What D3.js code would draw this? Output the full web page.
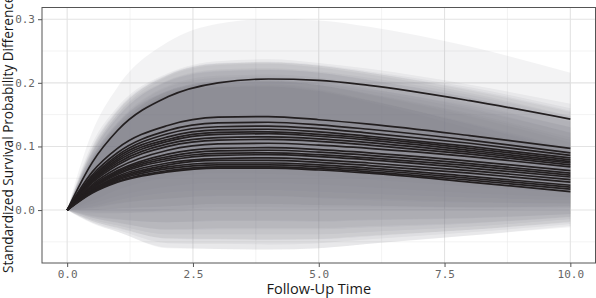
<!DOCTYPE html>
<html>
<head>
<meta charset="utf-8">
<script src="https://cdn.jsdelivr.net/npm/d3@7"></script>
<style>
  body { margin: 0; background: #fff; }
  svg { display: block; }
</style>
</head>
<body>
<svg id="chart" width="596" height="298"></svg>
<script>
// follow-up times where each curve was read
const times = [0, 0.5, 1, 2, 3, 4, 5, 6, 8, 10];

// standardized survival probability difference, one row per curve
const estimates = [
  [0, 0.075, 0.125, 0.178, 0.200, 0.206, 0.204, 0.196, 0.172, 0.143],
  [0, 0.060, 0.097, 0.133, 0.146, 0.147, 0.142, 0.135, 0.117, 0.097],
  [0, 0.055, 0.090, 0.125, 0.137, 0.138, 0.134, 0.127, 0.110, 0.090],
  [0, 0.052, 0.086, 0.120, 0.131, 0.132, 0.128, 0.121, 0.105, 0.086],
  [0, 0.050, 0.083, 0.115, 0.126, 0.127, 0.123, 0.116, 0.100, 0.082],
  [0, 0.048, 0.080, 0.111, 0.122, 0.123, 0.119, 0.113, 0.097, 0.079],
  [0, 0.046, 0.077, 0.108, 0.119, 0.120, 0.116, 0.110, 0.094, 0.076],
  [0, 0.045, 0.074, 0.104, 0.114, 0.115, 0.112, 0.106, 0.091, 0.074],
  [0, 0.043, 0.071, 0.100, 0.110, 0.111, 0.108, 0.102, 0.088, 0.071],
  [0, 0.040, 0.066, 0.094, 0.104, 0.105, 0.102, 0.097, 0.084, 0.068],
  [0, 0.038, 0.062, 0.088, 0.097, 0.098, 0.095, 0.090, 0.077, 0.062],
  [0, 0.036, 0.060, 0.084, 0.093, 0.094, 0.091, 0.086, 0.073, 0.058],
  [0, 0.035, 0.058, 0.081, 0.089, 0.090, 0.087, 0.082, 0.070, 0.055],
  [0, 0.034, 0.056, 0.078, 0.086, 0.087, 0.084, 0.079, 0.066, 0.052],
  [0, 0.032, 0.053, 0.074, 0.081, 0.082, 0.079, 0.074, 0.062, 0.048],
  [0, 0.031, 0.051, 0.071, 0.078, 0.078, 0.075, 0.070, 0.058, 0.044],
  [0, 0.030, 0.049, 0.068, 0.074, 0.074, 0.071, 0.066, 0.053, 0.039],
  [0, 0.029, 0.047, 0.065, 0.071, 0.071, 0.068, 0.063, 0.050, 0.036],
  [0, 0.028, 0.045, 0.062, 0.068, 0.068, 0.065, 0.060, 0.047, 0.033],
  [0, 0.027, 0.044, 0.060, 0.066, 0.066, 0.063, 0.058, 0.044, 0.029]
];

// half width of each curve's confidence band
const halfWidths = [
  [0, 0.048, 0.068, 0.086, 0.093, 0.094, 0.094, 0.092, 0.085, 0.073],
  [0, 0.045, 0.065, 0.082, 0.088, 0.090, 0.089, 0.087, 0.080, 0.070],
  [0, 0.045, 0.068, 0.088, 0.094, 0.095, 0.094, 0.091, 0.083, 0.070],
  [0, 0.046, 0.070, 0.092, 0.099, 0.100, 0.099, 0.095, 0.085, 0.070],
  [0, 0.046, 0.072, 0.097, 0.104, 0.105, 0.104, 0.100, 0.088, 0.072],
  [0, 0.045, 0.070, 0.093, 0.099, 0.100, 0.099, 0.095, 0.084, 0.068],
  [0, 0.046, 0.074, 0.102, 0.109, 0.110, 0.108, 0.103, 0.090, 0.072],
  [0, 0.045, 0.072, 0.098, 0.104, 0.105, 0.104, 0.099, 0.086, 0.068],
  [0, 0.046, 0.075, 0.103, 0.109, 0.110, 0.108, 0.102, 0.088, 0.068],
  [0, 0.045, 0.071, 0.094, 0.099, 0.100, 0.098, 0.093, 0.080, 0.062],
  [0, 0.047, 0.076, 0.107, 0.114, 0.115, 0.113, 0.106, 0.090, 0.068],
  [0, 0.046, 0.075, 0.103, 0.109, 0.110, 0.108, 0.101, 0.085, 0.064],
  [0, 0.047, 0.077, 0.112, 0.119, 0.120, 0.117, 0.109, 0.091, 0.066],
  [0, 0.046, 0.076, 0.108, 0.114, 0.115, 0.112, 0.104, 0.086, 0.062],
  [0, 0.047, 0.077, 0.112, 0.119, 0.120, 0.117, 0.108, 0.088, 0.062],
  [0, 0.048, 0.078, 0.116, 0.124, 0.125, 0.121, 0.111, 0.089, 0.062],
  [0, 0.047, 0.077, 0.112, 0.119, 0.120, 0.116, 0.106, 0.084, 0.058],
  [0, 0.048, 0.078, 0.117, 0.124, 0.125, 0.120, 0.109, 0.085, 0.058],
  [0, 0.048, 0.079, 0.121, 0.129, 0.130, 0.125, 0.113, 0.087, 0.058],
  [0, 0.048, 0.078, 0.120, 0.127, 0.128, 0.123, 0.111, 0.084, 0.056]
];

const xTicks = [0, 2.5, 5, 7.5, 10];
const xMinor = [1.25, 3.75, 6.25, 8.75];
const yTicks = [0, 0.1, 0.2, 0.3];
const yMinor = [-0.05, 0.05, 0.15, 0.25];

const svg = d3.select("#chart");
const panelLeft = 42, panelRight = 595.5, panelTop = 7.5, panelBottom = 263;

const xScale = d3.scaleLinear().domain([-0.5, 10.5]).range([panelLeft, panelRight]);
const yScale = d3.scaleLinear().domain([-0.0832, 0.3184]).range([panelBottom, panelTop]);

// grid
const grid = svg.append("g");
grid.selectAll(".xminor").data(xMinor).join("line")
  .attr("x1", d => xScale(d)).attr("x2", d => xScale(d))
  .attr("y1", panelTop).attr("y2", panelBottom)
  .attr("stroke", "#ebebeb").attr("stroke-width", 0.6);
grid.selectAll(".yminor").data(yMinor).join("line")
  .attr("x1", panelLeft).attr("x2", panelRight)
  .attr("y1", d => yScale(d)).attr("y2", d => yScale(d))
  .attr("stroke", "#ebebeb").attr("stroke-width", 0.6);
grid.selectAll(".xmajor").data(xTicks).join("line")
  .attr("x1", d => xScale(d)).attr("x2", d => xScale(d))
  .attr("y1", panelTop).attr("y2", panelBottom)
  .attr("stroke", "#e3e3e3").attr("stroke-width", 1.1);
grid.selectAll(".ymajor").data(yTicks).join("line")
  .attr("x1", panelLeft).attr("x2", panelRight)
  .attr("y1", d => yScale(d)).attr("y2", d => yScale(d))
  .attr("stroke", "#e3e3e3").attr("stroke-width", 1.1);

const bandArea = d3.area()
  .x((d, i) => xScale(times[i]))
  .y0(d => yScale(d[0]))
  .y1(d => yScale(d[1]))
  .curve(d3.curveMonotoneX);

const bands = estimates.map((row, k) =>
  row.map((v, i) => [v - halfWidths[k][i], v + halfWidths[k][i]]));

svg.append("g").selectAll("path").data(bands).join("path")
  .attr("d", bandArea)
  .attr("fill", "#808086")
  .attr("fill-opacity", 0.095);

const myLine = d3.line()
  .x((d, i) => xScale(times[i]))
  .y(d => yScale(d))
  .curve(d3.curveMonotoneX);

svg.append("g").selectAll("path").data(estimates).join("path")
  .attr("d", myLine)
  .attr("fill", "none")
  .attr("stroke", "#231f20")
  .attr("stroke-width", 1.7);

// panel border
svg.append("rect")
  .attr("x", panelLeft).attr("y", panelTop)
  .attr("width", panelRight - panelLeft).attr("height", panelBottom - panelTop)
  .attr("fill", "none").attr("stroke", "#555").attr("stroke-width", 1);

const xAxis = d3.axisBottom(xScale).tickValues(xTicks)
  .tickFormat(d3.format(".1f")).tickSize(4).tickPadding(3);
const yAxis = d3.axisLeft(yScale).tickValues(yTicks)
  .tickFormat(d3.format(".1f")).tickSize(4).tickPadding(3);

svg.append("g").attr("transform", `translate(0,${panelBottom})`).call(xAxis)
  .call(g => g.select(".domain").remove());
svg.append("g").attr("transform", `translate(${panelLeft},0)`).call(yAxis)
  .call(g => g.select(".domain").remove());

svg.selectAll(".tick line").attr("stroke", "#555");
svg.selectAll(".tick text")
  .attr("fill", "#666")
  .style("font-family", "'DejaVu Sans Mono', monospace")
  .style("font-size", "11px");

svg.append("text")
  .attr("x", (panelLeft + panelRight) / 2).attr("y", 294)
  .attr("text-anchor", "middle")
  .style("font-family", "'Open Sans', sans-serif")
  .style("font-size", "14.5px")
  .attr("fill", "#1a1a1a")
  .text("Follow-Up Time");

svg.append("text")
  .attr("transform", `translate(13,${(panelTop + panelBottom) / 2 - 1}) rotate(-90)`)
  .attr("text-anchor", "middle")
  .style("font-family", "'Open Sans', sans-serif")
  .style("font-size", "13.6px")
  .attr("fill", "#1a1a1a")
  .text("Standardized Survival Probability Difference");
</script>
</body>
</html>
